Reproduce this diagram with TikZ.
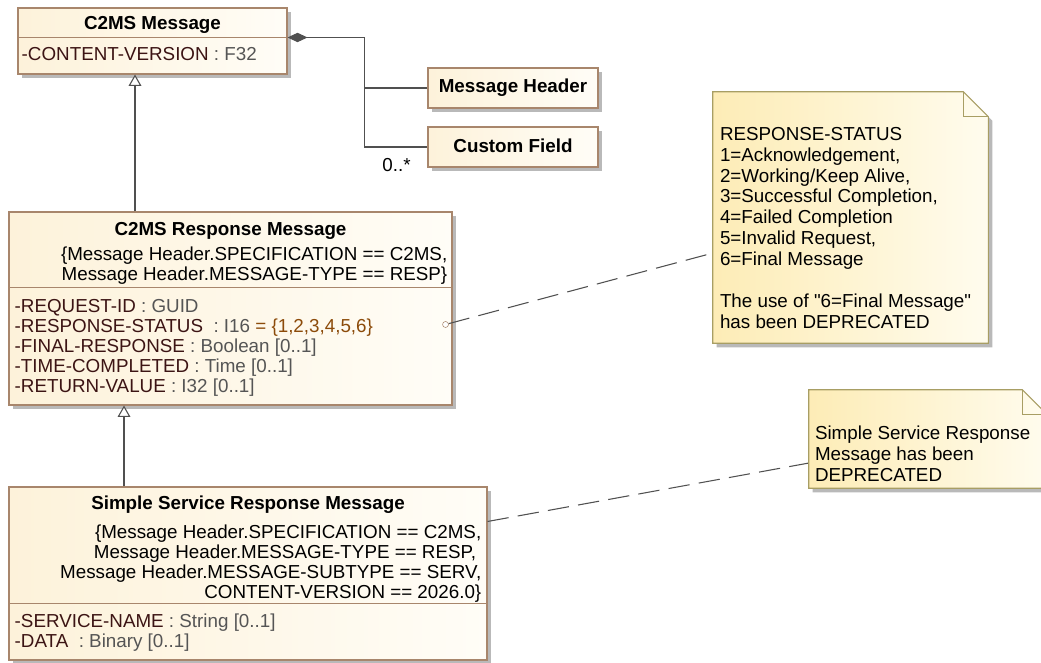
\documentclass[tikz,border=0pt]{standalone}
\usepackage{fontspec}
\setmainfont{Liberation Sans}
\usepackage{xcolor}
\usetikzlibrary{positioning, fit, shadows, arrows.meta}

\definecolor{boxline}{RGB}{168,134,108}
\definecolor{boxleft}{RGB}{253,242,218}
\definecolor{boxright}{RGB}{255,253,247}
\definecolor{noteline}{RGB}{168,158,100}
\definecolor{noteleft}{RGB}{253,236,182}
\definecolor{noteright}{RGB}{255,252,238}
\definecolor{shadowc}{RGB}{185,185,185}
\definecolor{connc}{RGB}{80,80,80}
\definecolor{attrname}{RGB}{60,20,20}
\definecolor{attrtype}{RGB}{85,85,85}
\definecolor{initval}{RGB}{140,75,10}

\newcommand{\umlsize}{\fontsize{14.1}{15}\selectfont}
\newcommand{\notesize}{\fontsize{14.1}{15.7}\selectfont}

\begin{document}
\begin{tikzpicture}[x=0.75pt,y=0.75pt,yscale=-1,xscale=1,
  classbox/.style={draw=boxline, line width=0.8pt, left color=boxleft, right color=boxright, inner sep=0pt,
    drop shadow={shadow xshift=3pt, shadow yshift=-3pt, fill=shadowc, opacity=1}},
  notearea/.style={inner sep=0pt},
  compline/.style={draw=boxline, line width=0.8pt},
  cname/.style={font=\umlsize\bfseries, inner sep=0pt},
  ctext/.style={font=\umlsize, inner sep=0pt, align=left, text=attrtype},
  cspec/.style={font=\umlsize, inner sep=0pt, align=right},
  ntext/.style={font=\notesize, inner sep=0pt, align=left},
  conn/.style={draw=connc, line width=0.8pt},
  gen/.style={conn, -{Triangle[open, length=8.5pt, width=9.5pt, fill=white]}},
  notelink/.style={draw=connc, line width=0.8pt, dash pattern=on 16pt off 7pt},
  port/.style={circle, draw=boxline, fill=white, inner sep=0pt, minimum size=4.5pt}]
\useasboundingbox (0,0) rectangle (1041,662);

%Class C2MS Message
\node[classbox, fit={(18,8) (287,74)}] (msg) {};
\node[cname] (msgname) at ([shift={(0,17)}]msg.north) {C2MS Message};
\draw[compline] ([shift={(0,30)}]msg.north west) -- ([shift={(0,30)}]msg.north east);
\node[ctext, anchor=west] (msgattr) at ([shift={(4,47)}]msg.north west) {\textcolor{attrname}{-CONTENT-VERSION} : F32};

%Class Message Header
\node[classbox, fit={(428,68) (598,108)}] (hdr) {};
\node[cname] (hdrname) at (hdr.center) {Message Header};
%Class Custom Field
\node[classbox, fit={(428,127) (598,167)}] (fld) {};
\node[cname] (fldname) at ([shift={(0,-1)}]fld.center) {Custom Field};

%Class C2MS Response Message
\node[classbox, fit={(9,212) (452,405)}] (resp) {};
\node[cname] (respname) at ([shift={(0,19)}]resp.north) {C2MS Response Message};
\node[cspec, anchor=north east] (respspec) at ([shift={(-5,35)}]resp.north east)
  {\{Message Header.SPECIFICATION == C2MS,\\Message Header.MESSAGE-TYPE == RESP\}};
\draw[compline] ([shift={(0,76)}]resp.north west) -- ([shift={(0,76)}]resp.north east);
\node[ctext, anchor=north west] (respattr) at ([shift={(6,88)}]resp.north west)
  {\textcolor{attrname}{-REQUEST-ID} : GUID\\
   \textcolor{attrname}{-RESPONSE-STATUS}\ \ : I16 \textcolor{initval}{= \{1,2,3,4,5,6\}}\\
   \textcolor{attrname}{-FINAL-RESPONSE} : Boolean [0..1]\\
   \textcolor{attrname}{-TIME-COMPLETED} : Time [0..1]\\
   \textcolor{attrname}{-RETURN-VALUE} : I32 [0..1]};

%Class Simple Service Response Message
\node[classbox, fit={(9,487) (487,660)}] (simple) {};
\node[cname] (simplename) at ([shift={(0,18)}]simple.north) {Simple Service Response Message};
\node[cspec, anchor=north east] (simplespec) at ([shift={(-6,38)}]simple.north east)
  {\{Message Header.SPECIFICATION == C2MS,\\Message Header.MESSAGE-TYPE == RESP,\kern0.28em\\
   Message Header.MESSAGE-SUBTYPE == SERV,\\CONTENT-VERSION == 2026.0\}};
\draw[compline] ([shift={(0,117)}]simple.north west) -- ([shift={(0,117)}]simple.north east);
\node[ctext, anchor=north west] (simpleattr) at ([shift={(6,127)}]simple.north west)
  {\textcolor{attrname}{-SERVICE-NAME} : String [0..1]\\
   \textcolor{attrname}{-DATA}\ \ : Binary [0..1]};

%Generalizations
\coordinate (g1) at (135,0);
\draw[gen] (g1 |- resp.north) -- (g1 |- msg.south);
\coordinate (g2) at (124,0);
\draw[gen] (g2 |- simple.north) -- (g2 |- resp.south);

%Composition
\coordinate (trunk) at ([shift={(77,30)}]msg.north east);
\draw[conn, {Diamond[length=15pt, width=7pt]}-] ([shift={(0,30)}]msg.north east) -- (trunk) |- (fld.west);
\draw[conn] (hdr.west) -| (trunk);
\node[font=\umlsize, inner sep=0pt] (fldmult) at ([shift={(-31,-3)}]fld.south west) {0..*};

%Note links
\node[port] (statport) at ([shift={(-7,113)}]resp.north east) {};
\coordinate (n1end) at (713,253);
\coordinate (n2end) at (809,463);
\draw[notelink] (statport) -- (n1end);
\draw[notelink] ([shift={(0,35)}]simple.north east) -- (n2end);

%Note RESPONSE-STATUS
\node[notearea, fit={(713,92) (988,343)}] (note1) {};
\fill[shadowc] ([shift={(4,4)}]note1.north west) -- ([shift={(-21,4)}]note1.north east) -- ([shift={(4,29)}]note1.north east)
  -- ([shift={(4,4)}]note1.south east) -- ([shift={(4,4)}]note1.south west) -- cycle;
\shade[left color=noteleft, right color=noteright, draw=noteline, line width=0.8pt] (note1.north west) -- ([shift={(-25,0)}]note1.north east)
  -- ([shift={(0,25)}]note1.north east) -- (note1.south east) -- (note1.south west) -- cycle;
\draw[noteline, line width=0.8pt] ([shift={(-25,0)}]note1.north east) |- ([shift={(0,25)}]note1.north east);
\node[ntext, anchor=north west] (note1text) at ([shift={(7,35)}]note1.north west)
  {RESPONSE-STATUS\\1=Acknowledgement,\\2=Working/Keep Alive,\\3=Successful Completion,\\4=Failed Completion\\
   5=Invalid Request,\\6=Final Message\\[15.7pt]The use of \textquotedbl 6=Final Message\textquotedbl\\has been DEPRECATED};

%Note deprecated
\node[notearea, fit={(809,390) (1047,488)}] (note2) {};
\fill[shadowc] ([shift={(4,4)}]note2.north west) -- ([shift={(-21,4)}]note2.north east) -- ([shift={(4,29)}]note2.north east)
  -- ([shift={(4,4)}]note2.south east) -- ([shift={(4,4)}]note2.south west) -- cycle;
\shade[left color=noteleft, right color=noteright, draw=noteline, line width=0.8pt] (note2.north west) -- ([shift={(-25,0)}]note2.north east)
  -- ([shift={(0,25)}]note2.north east) -- (note2.south east) -- (note2.south west) -- cycle;
\draw[noteline, line width=0.8pt] ([shift={(-25,0)}]note2.north east) |- ([shift={(0,25)}]note2.north east);
\node[ntext, anchor=north west] (note2text) at ([shift={(6,36)}]note2.north west)
  {Simple Service Response\\Message has been\\DEPRECATED};

\end{tikzpicture}
\end{document}
